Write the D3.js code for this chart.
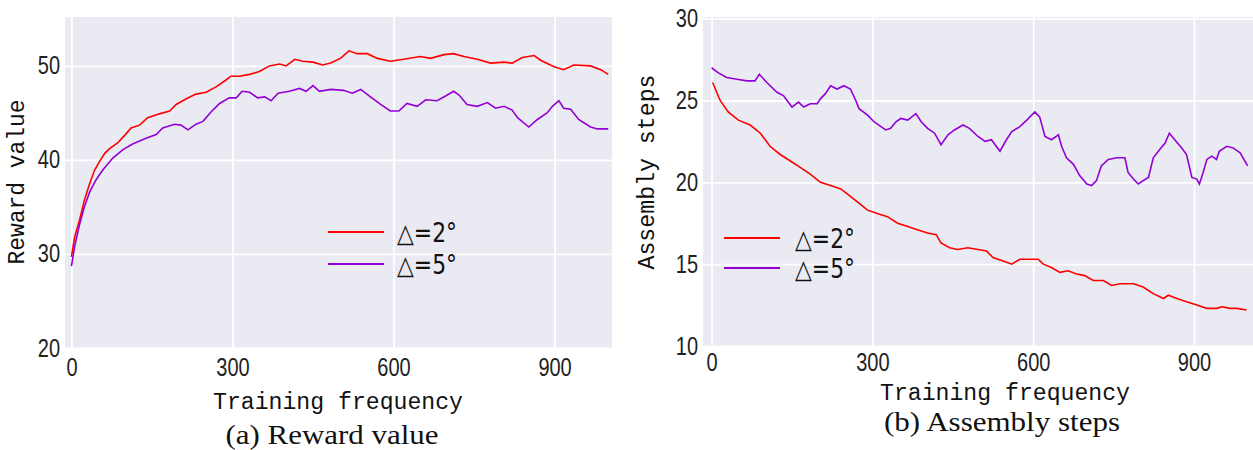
<!DOCTYPE html>
<meta charset="utf-8">
<style>
body { margin: 0; background: #fff; }
.grid line { stroke: #fff; stroke-width: 1.8; }
.grid path { display: none; }
.tick-lab text { font-family: "Liberation Sans", sans-serif; font-size: 25px; fill: #222; }
.tick-lab path, .tick-lab line { display: none; }
.ax-title { font-family: "Liberation Mono", "DejaVu Sans Mono", monospace; font-size: 23px; fill: #111; }
.caption { font-family: "Liberation Serif", serif; font-size: 28px; fill: #111; }
.leg { font-family: "DejaVu Sans", sans-serif; font-size: 26px; fill: #111; }
.line { fill: none; stroke-width: 1.6; }
</style>
<body>
<script src="https://d3js.org/d3.v7.min.js"></script>
<script>

var width = 1253;
var height = 450;

// x ticks shared by both panels
var xTicks = [0, 300, 600, 900];
var seriesNames = ['\u25B3=2\u00B0', '\u25B3=5\u00B0'];
var colors = ['#ff0000', '#9400d3'];

// (a) reward value, [training frequency, value]
var reward2 = [[0,29.7],[6,31.8],[15,33.6],[24,35.7],[34,37.5],[43,38.9],[52,39.8],[62,40.7],[71,41.2],[86,41.8],
  [102,42.8],[111,43.4],[127,43.7],[142,44.5],[164,44.9],[183,45.2],[195,45.9],[214,46.5],[232,47.0],[251,47.2],
  [270,47.8],[288,48.5],[297,48.9],[313,48.9],[332,49.1],[350,49.4],[369,50.0],[388,50.2],[400,50.0],[416,50.7],
  [431,50.5],[450,50.4],[468,50.1],[483,50.3],[501,50.8],[517,51.6],[532,51.3],[551,51.3],[570,50.8],[594,50.5],
  [619,50.7],[650,51.0],[669,50.8],[694,51.2],[712,51.3],[731,51.0],[756,50.7],[781,50.3],[806,50.4],[821,50.3],
  [840,50.9],[862,51.1],[874,50.6],[899,49.9],[917,49.6],[936,50.1],[967,50.0],[986,49.6],[1000,49.1]];
var reward5 = [[0,28.7],[6,30.8],[15,33.1],[24,35.0],[34,36.6],[46,37.9],[58,38.9],[77,40.2],[96,41.1],[114,41.7],
  [139,42.3],[158,42.7],[170,43.4],[192,43.8],[204,43.7],[217,43.2],[232,43.8],[245,44.1],[260,45.1],[276,46.0],
  [294,46.6],[307,46.6],[318,47.3],[332,47.2],[347,46.6],[360,46.7],[372,46.3],[385,47.1],[406,47.3],[425,47.6],
  [437,47.3],[450,47.9],[462,47.3],[483,47.5],[507,47.4],[523,47.1],[539,47.5],[557,46.7],[576,45.9],[594,45.2],
  [610,45.2],[625,46.0],[644,45.7],[660,46.4],[681,46.3],[697,46.8],[712,47.3],[722,46.9],[737,45.9],[756,45.7],
  [775,46.1],[790,45.5],[806,45.7],[821,45.3],[831,44.5],[852,43.5],[868,44.3],[886,45.0],[896,45.7],[908,46.3],
  [917,45.5],[930,45.4],[945,44.3],[967,43.5],[980,43.3],[1000,43.3]];

// (b) assembly steps
var steps2 = [[2,26.1],[16,25.0],[31,24.3],[50,23.8],[72,23.5],[91,23.0],[109,22.2],[128,21.7],[147,21.3],[166,20.9],
  [184,20.5],[203,20.0],[222,19.8],[241,19.6],[253,19.3],[272,18.8],[291,18.3],[309,18.1],[328,17.9],[347,17.5],
  [366,17.3],[384,17.1],[403,16.9],[419,16.8],[428,16.3],[444,16.0],[459,15.9],[478,16.0],[513,15.8],[525,15.4],
  [544,15.2],[560,15.0],[575,15.3],[591,15.3],[609,15.3],[619,15.0],[634,14.8],[650,14.5],[665,14.6],[681,14.4],
  [696,14.3],[712,14.0],[731,14.0],[746,13.7],[762,13.8],[787,13.8],[805,13.6],[824,13.2],[843,12.9],[852,13.1],
  [868,12.9],[886,12.7],[905,12.5],[924,12.3],[942,12.3],[952,12.4],[967,12.3],[980,12.3],[998,12.2]];
var steps5 = [[0,27.0],[12,26.7],[28,26.4],[47,26.3],[66,26.2],[81,26.2],[89,26.6],[103,26.1],[122,25.5],[134,25.3],
  [150,24.6],[162,24.9],[172,24.6],[184,24.8],[197,24.8],[203,25.1],[212,25.4],[222,25.9],[234,25.7],[247,25.9],
  [259,25.7],[269,25.0],[275,24.5],[291,24.1],[303,23.7],[316,23.4],[325,23.2],[334,23.3],[344,23.7],[353,23.9],
  [366,23.8],[381,24.2],[391,23.7],[403,23.3],[416,23.0],[428,22.3],[441,22.9],[453,23.2],[469,23.5],[481,23.3],
  [497,22.8],[510,22.5],[522,22.6],[538,21.9],[550,22.6],[560,23.1],[575,23.4],[588,23.8],[603,24.3],[612,24.0],
  [622,22.8],[634,22.6],[647,22.9],[653,22.2],[662,21.5],[675,21.1],[687,20.4],[700,19.9],[709,19.8],[718,20.1],
  [727,21.0],[740,21.4],[756,21.5],[771,21.5],[777,20.6],[787,20.2],[796,19.9],[805,20.1],[815,20.3],[824,21.5],
  [836,22.0],[846,22.4],[854,23.0],[864,22.6],[877,22.1],[886,21.7],[896,20.3],[905,20.2],[910,19.9],[917,20.6],
  [924,21.4],[933,21.6],[942,21.4],[947,21.9],[961,22.2],[973,22.1],[986,21.8],[1000,21.0]];

var rewardTicks = [20, 30, 40, 50];
var stepsTicks = [10, 15, 20, 25, 30];

var svg = d3.select('body').append('svg')
  .attr('width', width)
  .attr('height', height);

var panels = [
  {
    x0: 65, x1: 612, y0: 17, y1: 348,
    xDom: [-12, 1007], yDom: [20, 55.2], yTicks: rewardTicks,
    series: [reward2, reward5],
    xLabPad: 10, xTitleY: 409, xTitleX: 338, yTitleX: 24, yTitleY: 182,
    xTitle: 'Training frequency', yTitle: 'Reward value', yTitleLen: 165,
    caption: '(a) Reward value', capX: 332, capY: 444, capLen: 213,
    legX: 328, legY: [232, 264], legTextX: 397
  },
  {
    x0: 703, x1: 1253, y0: 17, y1: 346,
    xDom: [-16, 1010], yDom: [10, 30.1], yTicks: stepsTicks,
    series: [steps2, steps5],
    xLabPad: 7, xTitleY: 400, xTitleX: 1005, yTitleX: 654, yTitleY: 172,
    xTitle: 'Training frequency', yTitle: 'Assembly steps', yTitleLen: 195,
    caption: '(b) Assembly steps', capX: 1002, capY: 431, capLen: 236,
    legX: 724, legY: [238, 268], legTextX: 795
  }
];

panels.forEach(function(p) {
  var x = d3.scaleLinear().domain(p.xDom).range([p.x0, p.x1]);
  var y = d3.scaleLinear().domain(p.yDom).range([p.y1, p.y0]);
  var g = svg.append('g');

  g.append('rect')
    .attr('x', p.x0).attr('y', p.y0)
    .attr('width', p.x1 - p.x0).attr('height', p.y1 - p.y0)
    .attr('fill', '#eaeaf2');

  // grid
  g.append('g').attr('class', 'grid')
    .attr('transform', 'translate(0,' + p.y1 + ')')
    .call(d3.axisBottom(x).tickValues(xTicks).tickSize(-(p.y1 - p.y0)).tickFormat(''));
  g.append('g').attr('class', 'grid')
    .attr('transform', 'translate(' + p.x0 + ',0)')
    .call(d3.axisLeft(y).tickValues(p.yTicks).tickSize(-(p.x1 - p.x0)).tickFormat(''));

  // tick labels
  var xa = g.append('g').attr('class', 'tick-lab')
    .attr('transform', 'translate(0,' + p.y1 + ')')
    .call(d3.axisBottom(x).tickValues(xTicks).tickSize(0).tickPadding(p.xLabPad));
  xa.selectAll('text').attr('transform', 'scale(0.8,1)');
  var ya = g.append('g').attr('class', 'tick-lab')
    .attr('transform', 'translate(' + (p.x0 - 5) + ',0)')
    .call(d3.axisLeft(y).tickValues(p.yTicks).tickSize(0).tickPadding(0));
  ya.selectAll('text').attr('transform', 'scale(0.8,1)');

  // lines
  var line = d3.line().x(d => x(d[0])).y(d => y(d[1]));
  p.series.forEach(function(s, i) {
    g.append('path').attr('class', 'line')
      .attr('d', line(s))
      .attr('stroke', colors[i]);
  });

  // legend
  seriesNames.forEach(function(name, i) {
    g.append('line')
      .attr('x1', p.legX).attr('x2', p.legX + 56)
      .attr('y1', p.legY[i]).attr('y2', p.legY[i])
      .attr('stroke', colors[i]).attr('stroke-width', 2);
    g.append('text').attr('class', 'leg')
      .attr('x', p.legTextX).attr('y', p.legY[i] + 10)
      .attr('textLength', 60).attr('lengthAdjust', 'spacingAndGlyphs')
      .text(name);
  });

  // titles
  g.append('text').attr('class', 'ax-title')
    .attr('x', p.xTitleX).attr('y', p.xTitleY)
    .attr('text-anchor', 'middle')
    .attr('textLength', 250).attr('lengthAdjust', 'spacingAndGlyphs')
    .text(p.xTitle);
  g.append('text').attr('class', 'ax-title')
    .attr('transform', 'translate(' + p.yTitleX + ',' + p.yTitleY + ') rotate(-90)')
    .attr('text-anchor', 'middle')
    .attr('textLength', p.yTitleLen).attr('lengthAdjust', 'spacingAndGlyphs')
    .text(p.yTitle);
  g.append('text').attr('class', 'caption')
    .attr('x', p.capX).attr('y', p.capY)
    .attr('text-anchor', 'middle')
    .attr('textLength', p.capLen).attr('lengthAdjust', 'spacingAndGlyphs')
    .text(p.caption);
});

</script>
</body>
